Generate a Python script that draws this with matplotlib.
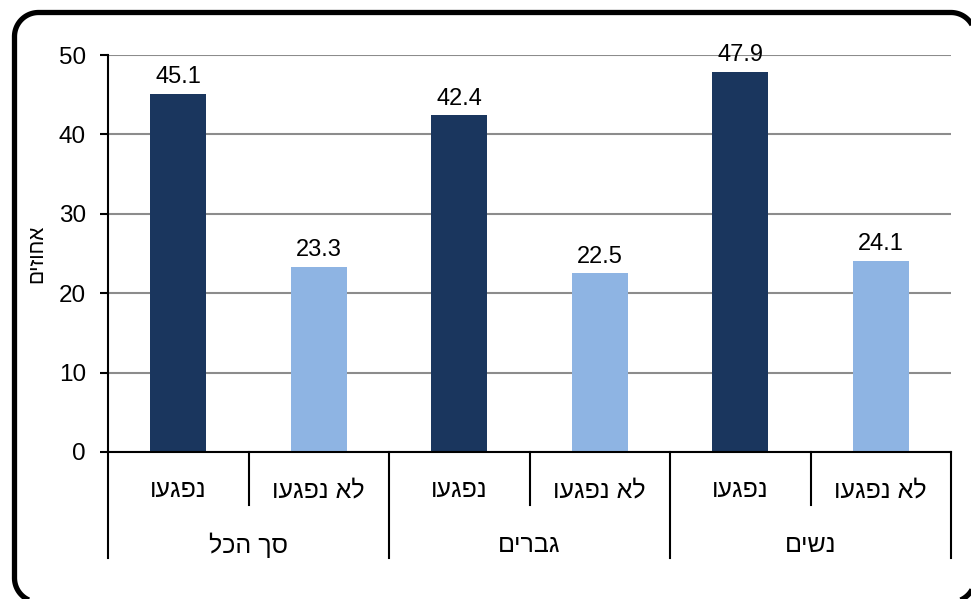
import matplotlib
matplotlib.use("Agg")
import numpy as np
import matplotlib.pyplot as plt
from matplotlib.patches import PathPatch
from matplotlib.path import Path
import matplotlib.transforms as mtransforms

plt.rcParams['font.family'] = ['Liberation Sans', 'DejaVu Sans']

def rtl(s):
    return s[::-1]

groups = ["סך הכל", "גברים", "נשים"]
subcats = ["נפגעו", "לא נפגעו"]
values = [45.1, 23.3, 42.4, 22.5, 47.9, 24.1]
value_labels = ["45.1", "23.3", "42.4", "22.5", "47.9", "24.1"]
yticks = [0, 10, 20, 30, 40, 50]
ylabel = "אחוזים"

dark = "#1A365E"
light = "#8EB4E3"

fig = plt.figure(figsize=(9.71, 5.99), dpi=100)
W, H = 971, 599

# rounded frame drawn in pixel coordinates (runs slightly off right/bottom)
def rounded_rect(x0, y0, x1, y1, r, n=30):
    pts = []
    corners = [(x1 - r, y1 - r, 0, 90), (x0 + r, y1 - r, 90, 180),
               (x0 + r, y0 + r, 180, 270), (x1 - r, y0 + r, 270, 360)]
    for cx, cy, a0, a1 in corners:
        t = np.radians(np.linspace(a0, a1, n))
        pts.extend(zip(cx + r * np.cos(t), cy + r * np.sin(t)))
    pts.append(pts[0])
    return Path(pts)

px = mtransforms.Affine2D().scale(1 / 100.0) + fig.dpi_scale_trans
frame = PathPatch(rounded_rect(14.5, -3, 975, 586.5, 24), transform=px,
                  facecolor="none", edgecolor="black", linewidth=3.8,
                  zorder=10)
fig.patches.append(frame)

ax = fig.add_axes([108 / W, 1 - 452 / H, (951 - 108) / W, (452 - 55) / H])
ax.set_facecolor("none")

n = len(values)
xs = list(range(n))
colors = [dark if i % 2 == 0 else light for i in range(n)]
bars = ax.bar(xs, values, width=0.4, color=colors, zorder=3)

for x, v, lab in zip(xs, values, value_labels):
    ax.annotate(lab, (x, v), xytext=(0, 4), textcoords="offset points",
                ha="center", va="bottom", fontsize=17, color="black", zorder=4)

ax.set_xlim(-0.5, n - 0.5)
ax.set_ylim(0, 50)
ax.set_yticks(yticks)
ax.set_yticklabels([str(t) for t in yticks], fontsize=17.5)
ax.tick_params(axis="y", length=6, width=1.5, pad=10, direction="out")
ax.set_xticks([])
ax.yaxis.grid(True, color="#8C8C8C", linewidth=1.5, zorder=0)
ax.set_axisbelow(True)

for s in ["top", "right"]:
    ax.spines[s].set_visible(False)
ax.spines["left"].set_linewidth(1.5)
ax.spines["bottom"].set_linewidth(1.5)
ax.spines["bottom"].set_zorder(5)

fig.text(37 / W, 1 - 254 / H, rtl(ylabel), rotation=90, ha="center",
         va="center", fontsize=15)

trans = mtransforms.blended_transform_factory(ax.transData, ax.transAxes)
y_sub_bottom = -(505 - 452) / 397
y_grp_bottom = -(558 - 452) / 397
y_sub_text = -(490 - 452) / 397
y_grp_text = -(545 - 452) / 397

# sub-category labels and separators
for i in range(n):
    ax.text(i, y_sub_text, rtl(subcats[i % 2]), transform=trans,
            ha="center", va="center", fontsize=18)
for b in range(n + 1):
    xb = b - 0.5
    if b % 2 == 0:
        y0 = y_grp_bottom
    else:
        y0 = y_sub_bottom
    ax.plot([xb, xb], [0, y0], transform=trans, color="black",
            linewidth=1.5, clip_on=False)

for g, name in enumerate(groups):
    ax.text(2 * g + 0.5, y_grp_text, rtl(name), transform=trans,
            ha="center", va="center", fontsize=18)

fig.savefig("out.png", dpi=100)
